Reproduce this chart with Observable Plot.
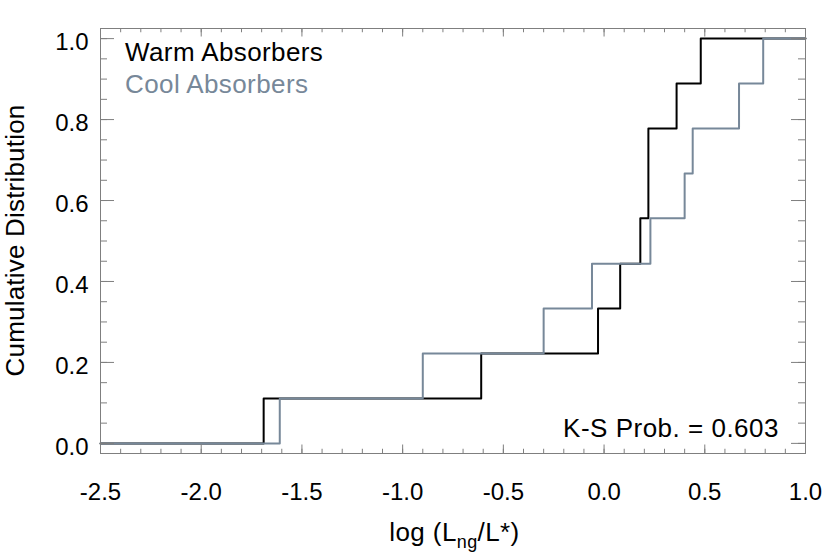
<!DOCTYPE html>
<html>
<head>
<meta charset="utf-8">
<script src="https://cdn.jsdelivr.net/npm/d3@7"></script>
<script src="https://cdn.jsdelivr.net/npm/@observablehq/plot@0.6"></script>
<style>
  html, body { margin: 0; padding: 0; background: #fff; }
  svg { display: block; }
</style>
</head>
<body>
<div id="chart"></div>
<script>
// Data
const warmX = [-2.5, -1.69, -0.61, -0.03, 0.08, 0.18, 0.22, 0.36, 0.48, 1.0];
const warmY = [0, 0.111, 0.222, 0.333, 0.444, 0.556, 0.778, 0.889, 1.0, 1.0];
const coolX = [-2.5, -1.61, -0.90, -0.30, -0.06, 0.23, 0.40, 0.44, 0.67, 0.79, 1.0];
const coolY = [0, 0.111, 0.222, 0.333, 0.444, 0.556, 0.667, 0.778, 0.889, 1.0, 1.0];
const xMajor = [-2.5, -2.0, -1.5, -1.0, -0.5, 0.0, 0.5, 1.0];
const yMajor = [0.0, 0.2, 0.4, 0.6, 0.8, 1.0];
const xMinor = d3.range(-25, 11).map(d => d / 10);
const yMinor = d3.range(0, 21).map(d => d / 20);
const seriesNames = ["Warm Absorbers", "Cool Absorbers"];
const ksLabel = "K-S Prob. = 0.603";

const warm = warmX.map((x, i) => ({x, y: warmY[i]}));
const cool = coolX.map((x, i) => ({x, y: coolY[i]}));

const W = 830, H = 554;
const mL = 100, mR = 25, mT = 28, mB = 101;
const pw = W - mL - mR, ph = H - mT - mB;
const gray = "#7f7f7f";
const coolColor = "#778899";
const font = "'Liberation Sans', Arial, Helvetica, sans-serif";
const fmt = d => d.toFixed(1);

const xTickLen = 8.5, yTickLen = 14;

const chart = Plot.plot({
  width: W,
  height: H,
  marginLeft: mL,
  marginRight: mR,
  marginTop: mT,
  marginBottom: mB,
  style: {fontFamily: font, background: "#fff", color: "#000"},
  x: {domain: [-2.5, 1.0]},
  y: {domain: [-0.025, 1.025]},
  marks: [
    Plot.line(warm, {x: "x", y: "y", curve: "step-after", stroke: "#000", strokeWidth: 2}),
    Plot.line(cool, {x: "x", y: "y", curve: "step-after", stroke: coolColor, strokeWidth: 2}),
    // ticks bottom/top
    Plot.tickX(xMajor, {x: d => d, insetTop: ph - xTickLen, stroke: gray}),
    Plot.tickX(xMajor, {x: d => d, insetBottom: ph - xTickLen, stroke: gray}),
    Plot.tickX(xMinor, {x: d => d, insetTop: ph - xTickLen / 2, stroke: gray}),
    Plot.tickX(xMinor, {x: d => d, insetBottom: ph - xTickLen / 2, stroke: gray}),
    // ticks left/right
    Plot.tickY(yMajor, {y: d => d, insetRight: pw - yTickLen, stroke: gray}),
    Plot.tickY(yMajor, {y: d => d, insetLeft: pw - yTickLen, stroke: gray}),
    Plot.tickY(yMinor, {y: d => d, insetRight: pw - yTickLen / 2, stroke: gray}),
    Plot.tickY(yMinor, {y: d => d, insetLeft: pw - yTickLen / 2, stroke: gray}),
    Plot.frame({stroke: gray}),
    Plot.axisX({ticks: xMajor, tickFormat: fmt, tickSize: 0, tickPadding: 29, fontSize: 24, label: null}),
    Plot.axisY({ticks: yMajor, tickFormat: fmt, tickSize: 0, tickPadding: 12, fontSize: 24, dy: 4, label: null})
  ]
});

document.getElementById("chart").appendChild(chart);

const svg = d3.select(chart);
// x-axis title with subscript
const xt = svg.append("text")
  .attr("x", (mL + W - mR) / 2 + 2)
  .attr("y", 541)
  .attr("text-anchor", "middle")
  .attr("font-family", font)
  .attr("font-size", 26)
  .attr("letter-spacing", 0.4)
  .attr("fill", "#000");
xt.append("tspan").text("log (L");
xt.append("tspan").attr("dy", 7).attr("font-size", 18).text("ng");
xt.append("tspan").attr("dy", -7).text("/L*)");

// y-axis title
svg.append("text")
  .attr("transform", `translate(24, ${mT + ph / 2}) rotate(-90)`)
  .attr("text-anchor", "middle")
  .attr("font-family", font)
  .attr("font-size", 26)
  .attr("letter-spacing", 0.2)
  .attr("fill", "#000")
  .text("Cumulative Distribution");

// legend
svg.append("text")
  .attr("x", 125).attr("y", 61)
  .attr("text-anchor", "start")
  .attr("font-family", font).attr("font-size", 26).attr("letter-spacing", 0.4).attr("fill", "#000")
  .text(seriesNames[0]);
svg.append("text")
  .attr("x", 125).attr("y", 93)
  .attr("text-anchor", "start")
  .attr("font-family", font).attr("font-size", 26).attr("letter-spacing", 0.4).attr("fill", coolColor)
  .text(seriesNames[1]);

// K-S annotation
svg.append("text")
  .attr("x", 779).attr("y", 437)
  .attr("text-anchor", "end")
  .attr("font-family", font).attr("font-size", 26).attr("letter-spacing", 0.5).attr("fill", "#000")
  .text(ksLabel);
</script>
</body>
</html>
